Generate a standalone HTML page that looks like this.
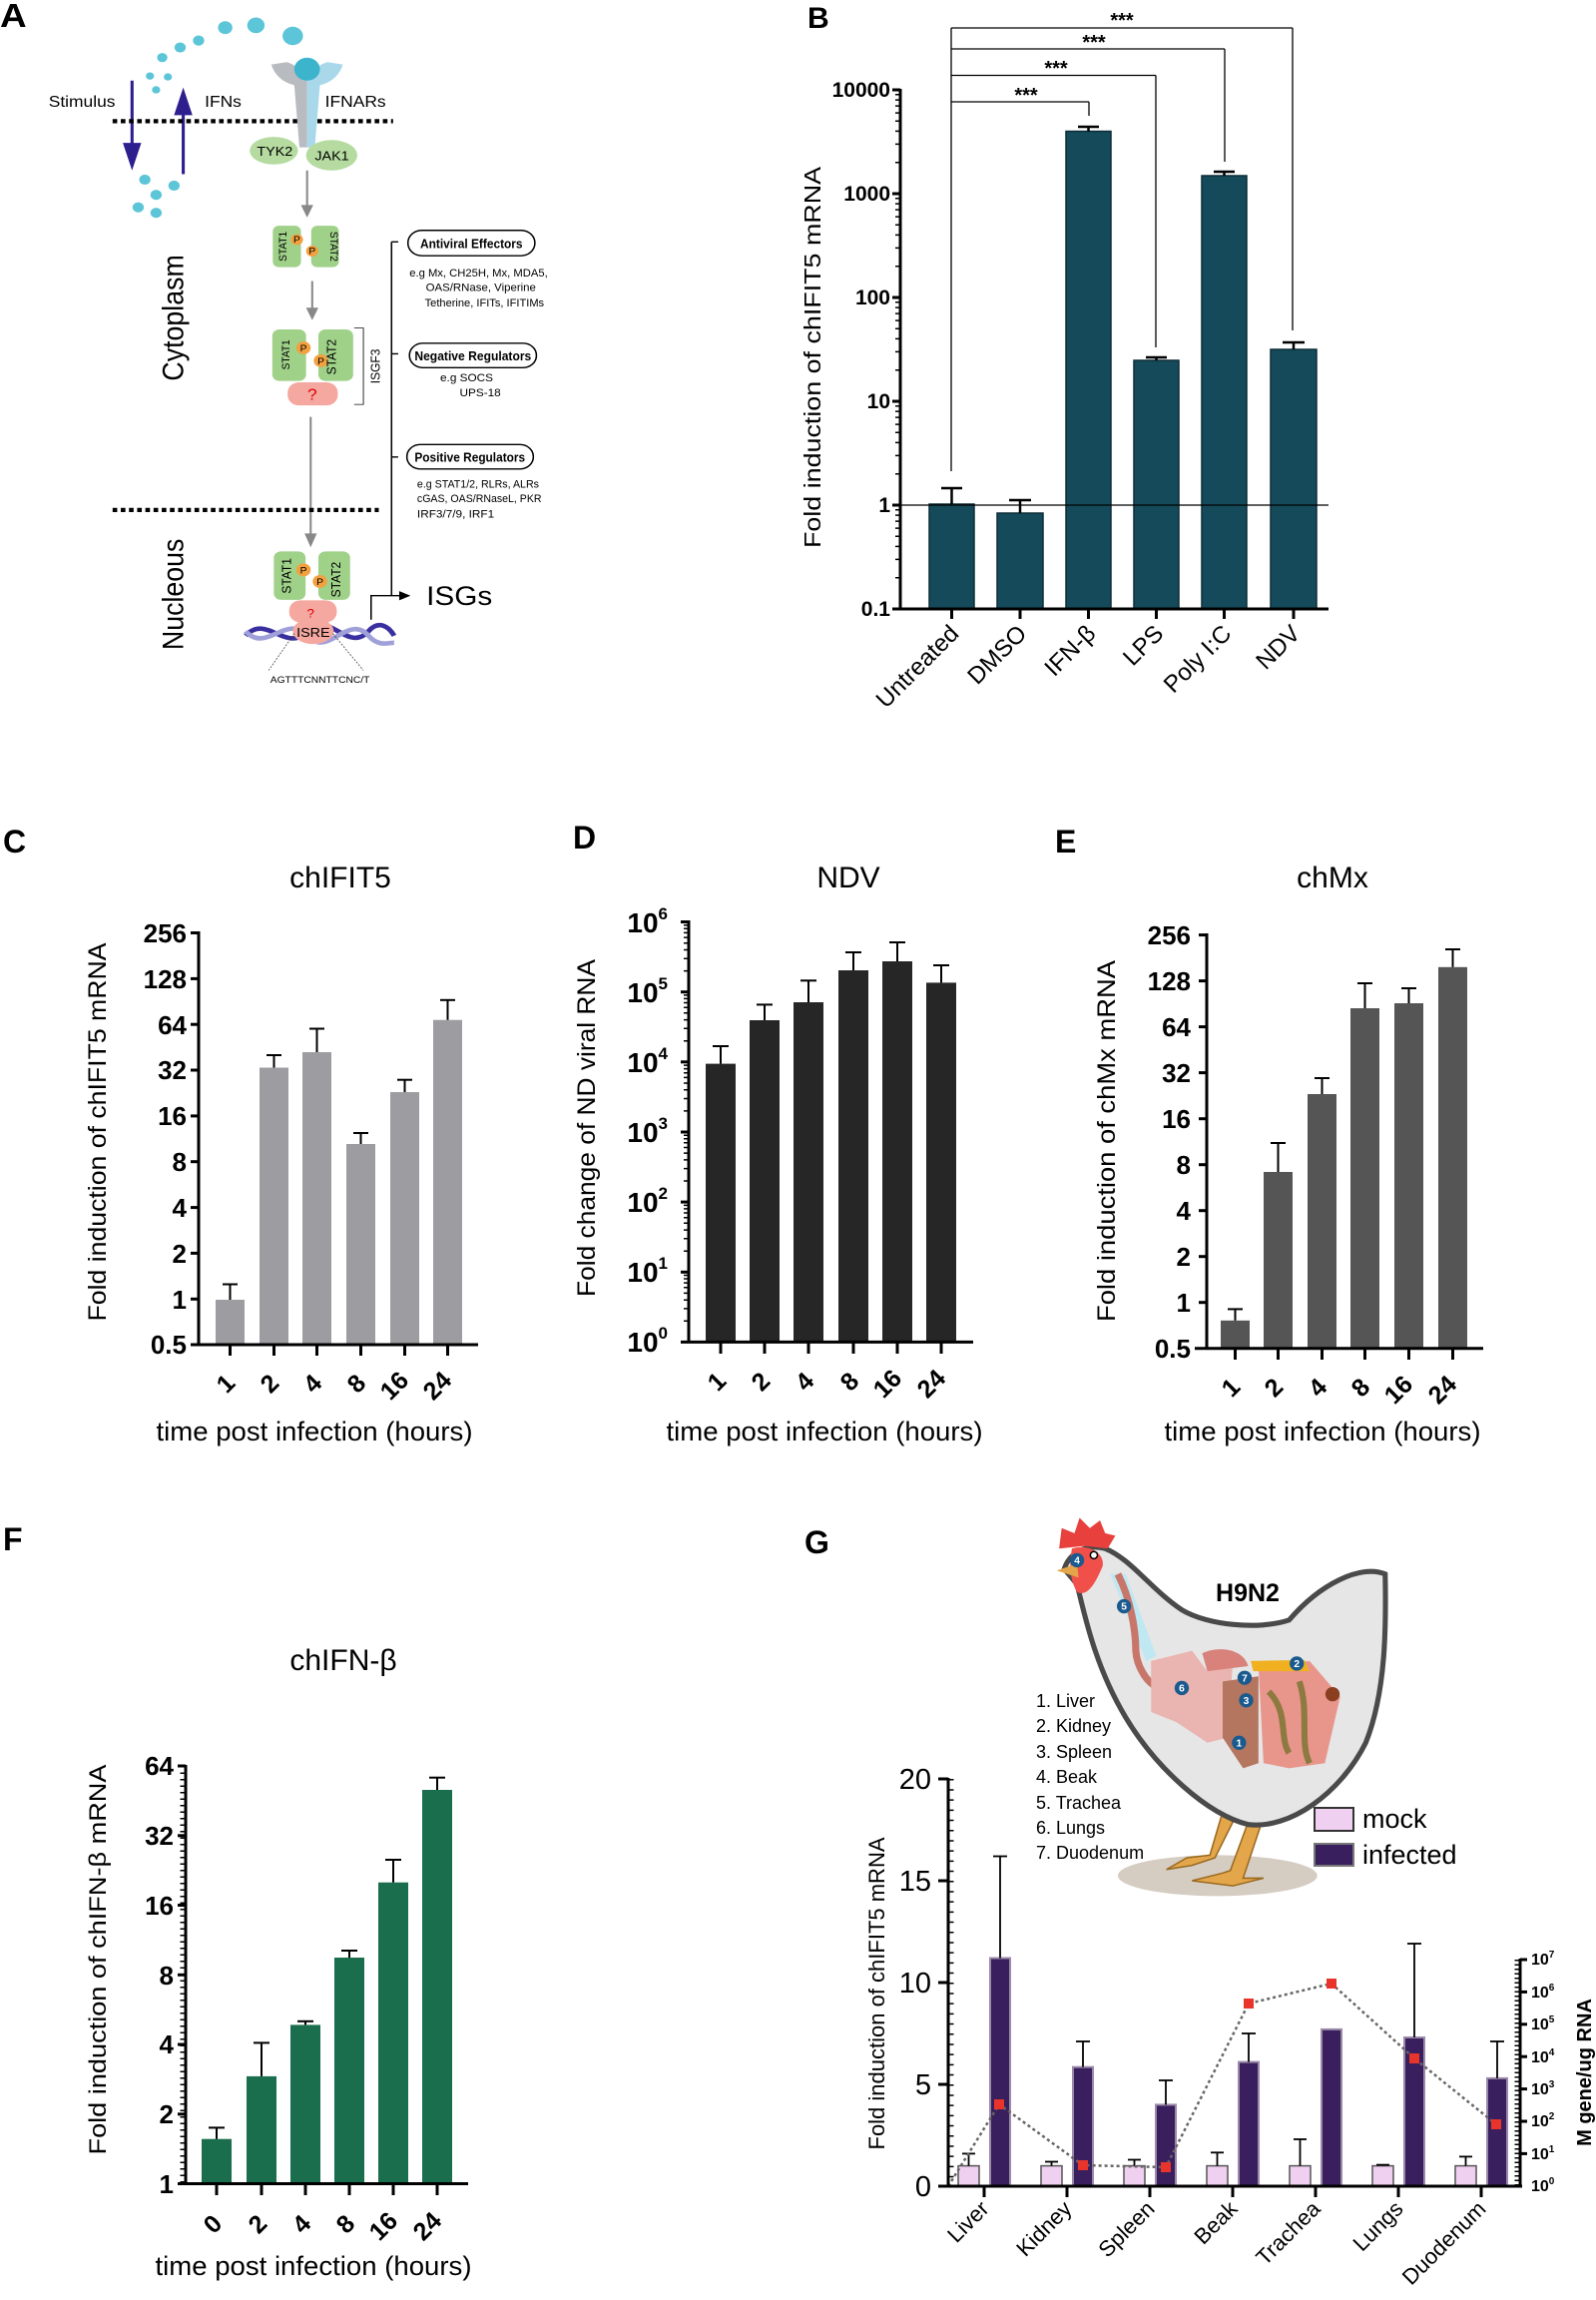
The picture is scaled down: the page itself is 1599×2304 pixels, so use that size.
<!DOCTYPE html>
<html><head><meta charset="utf-8"><style>
html,body{margin:0;padding:0;background:#fff}
svg{display:block}
text{font-family:"Liberation Sans",Arial,sans-serif}
</style></head><body>
<svg width="1599" height="2304" viewBox="0 0 1599 2304" xmlns="http://www.w3.org/2000/svg">
<rect width="1599" height="2304" fill="#fff"/>

<!-- ================= PANEL A ================= -->
<g transform="scale(0.5128,0.4615)">
<text x="0" y="58" font-size="72" font-weight="bold">A</text>
<g fill="#5cc5d8">
<circle cx="440" cy="60" r="14"/><circle cx="500" cy="55" r="17"/><circle cx="572" cy="78" r="20"/>
<circle cx="388" cy="88" r="11"/><circle cx="352" cy="103" r="11"/><circle cx="317" cy="125" r="10"/>
<circle cx="293" cy="165" r="8"/><circle cx="328" cy="167" r="8"/><circle cx="305" cy="195" r="8"/>
<circle cx="283" cy="390" r="11"/><circle cx="340" cy="403" r="11"/><circle cx="305" cy="423" r="11"/>
<circle cx="270" cy="450" r="11"/><circle cx="305" cy="462" r="11"/>
</g>
<text x="95" y="232" font-size="34">Stimulus</text>
<text x="400" y="232" font-size="34">IFNs</text>
<text x="635" y="232" font-size="34">IFNARs</text>
<g stroke="#2e1f8f" stroke-width="6" fill="#2e1f8f">
<line x1="258" y1="175" x2="258" y2="320"/><polygon points="240,310 276,310 258,370" stroke="none"/>
<line x1="358" y1="378" x2="358" y2="240"/><polygon points="340,250 376,250 358,190" stroke="none"/>
</g>
<line x1="220" y1="263" x2="768" y2="263" stroke="#000" stroke-width="9" stroke-dasharray="9,7"/>
<path d="M530,140 Q540,175 575,185 L585,320 L600,320 L600,170 Q580,140 560,135 Z" fill="#b8bcc0"/>
<path d="M670,140 Q660,175 625,185 L615,320 L600,320 L600,170 Q620,140 640,135 Z" fill="#a8d8ea"/>
<circle cx="600" cy="150" r="25" fill="#3cb4cc"/>
<ellipse cx="535" cy="327" rx="47" ry="30" fill="#b5dba0"/>
<ellipse cx="648" cy="337" rx="50" ry="33" fill="#b5dba0"/>
<text x="502" y="338" font-size="28">TYK2</text>
<text x="615" y="348" font-size="28">JAK1</text>
<g stroke="#888" stroke-width="4" fill="#888">
<line x1="600" y1="370" x2="600" y2="450"/><polygon points="588,445 612,445 600,472" stroke="none"/>
<line x1="610" y1="610" x2="610" y2="672"/><polygon points="598,668 622,668 610,695" stroke="none"/>
<line x1="607" y1="905" x2="607" y2="1160"/><polygon points="595,1158 619,1158 607,1188" stroke="none"/>
</g>
<g fill="#9fd189">
<rect x="533" y="490" width="55" height="90" rx="12"/><rect x="608" y="490" width="54" height="90" rx="12"/>
<rect x="532" y="715" width="66" height="112" rx="14"/><rect x="622" y="715" width="68" height="112" rx="14"/>
<rect x="535" y="1197" width="62" height="105" rx="14"/><rect x="622" y="1197" width="62" height="105" rx="14"/>
</g>
<g fill="#f5a8a0">
<rect x="562" y="830" width="98" height="50" rx="22"/>
<rect x="565" y="1303" width="93" height="48" rx="22"/>
</g>
<path d="M480,1380 C520,1330 560,1420 600,1370 C640,1320 680,1420 720,1370 C740,1345 760,1360 770,1380" stroke="#3a2fa0" stroke-width="10" fill="none"/>
<path d="M480,1370 C520,1420 560,1330 600,1380 C640,1430 680,1330 720,1380 C740,1405 760,1395 770,1395" stroke="#9fa0d8" stroke-width="10" fill="none"/>
<ellipse cx="612" cy="1370" rx="40" ry="28" fill="#f5a8a0"/>
<text x="612" y="1382" font-size="28" text-anchor="middle">ISRE</text>
<text x="610" y="868" font-size="34" fill="#d00" text-anchor="middle">?</text>
<text x="607" y="1340" font-size="26" fill="#d00" text-anchor="middle">?</text>
<g fill="#f2a040">
<circle cx="580" cy="520" r="12"/><circle cx="610" cy="545" r="12"/>
<circle cx="593" cy="755" r="14"/><circle cx="627" cy="783" r="14"/>
<circle cx="593" cy="1237" r="14"/><circle cx="625" cy="1262" r="14"/>
</g>
<g font-size="20" text-anchor="middle">
<text x="580" y="527">P</text><text x="610" y="552">P</text>
<text x="593" y="763">P</text><text x="627" y="791">P</text>
<text x="593" y="1245">P</text><text x="625" y="1270">P</text>
</g>
<g font-size="22" text-anchor="middle">
<text transform="translate(560,535) rotate(-90)">STAT1</text>
<text transform="translate(645,535) rotate(90)">STAT2</text>
<text transform="translate(566,770) rotate(-90)">STAT1</text>
<text transform="translate(656,775) rotate(-90)" font-size="26">STAT2</text>
<text transform="translate(568,1250) rotate(-90)" font-size="26">STAT1</text>
<text transform="translate(665,1258) rotate(-90)" font-size="26">STAT2</text>
</g>
<path d="M692,712 L710,712 L710,878 L692,878" stroke="#333" stroke-width="2" fill="none"/>
<text transform="translate(742,795) rotate(-90)" font-size="26" text-anchor="middle">ISGF3</text>
<line x1="220" y1="1107" x2="740" y2="1107" stroke="#000" stroke-width="9" stroke-dasharray="9,7"/>
<line x1="575" y1="1375" x2="525" y2="1455" stroke="#333" stroke-width="1.5" stroke-dasharray="4,3"/>
<line x1="650" y1="1375" x2="710" y2="1455" stroke="#333" stroke-width="1.5" stroke-dasharray="4,3"/>
<text x="528" y="1482" font-size="20">AGTTTCNNTTCNC/T</text>
<g stroke="#000" stroke-width="3" fill="none">
<line x1="765" y1="525" x2="765" y2="1292"/>
<line x1="765" y1="525" x2="778" y2="525"/><line x1="765" y1="768" x2="778" y2="768"/><line x1="765" y1="992" x2="778" y2="992"/>
<path d="M725,1345 L725,1293 L785,1293"/>
</g>
<polygon points="780,1283 802,1293 780,1303" fill="#000"/>
<text x="833" y="1313" font-size="58">ISGs</text>
<g stroke="#000" stroke-width="3" fill="#fff">
<rect x="797" y="500" width="248" height="55" rx="27"/>
<rect x="800" y="745" width="248" height="53" rx="26"/>
<rect x="795" y="965" width="247" height="53" rx="26"/>
</g>
<g font-size="28" font-weight="bold" text-anchor="middle">
<text x="921" y="538" textLength="200" lengthAdjust="spacingAndGlyphs">Antiviral Effectors</text>
<text x="924" y="782" textLength="228" lengthAdjust="spacingAndGlyphs">Negative Regulators</text>
<text x="918" y="1002" textLength="216" lengthAdjust="spacingAndGlyphs">Positive Regulators</text>
</g>
<g font-size="23">
<text x="800" y="600" textLength="270" lengthAdjust="spacingAndGlyphs">e.g Mx, CH25H, Mx, MDA5,</text>
<text x="832" y="632" textLength="215" lengthAdjust="spacingAndGlyphs">OAS/RNase,  Viperine</text>
<text x="830" y="665" textLength="233" lengthAdjust="spacingAndGlyphs">Tetherine, IFITs, IFITIMs</text>
<text x="860" y="828">e.g SOCS</text>
<text x="898" y="860">UPS-18</text>
<text x="815" y="1058" textLength="238" lengthAdjust="spacingAndGlyphs">e.g STAT1/2, RLRs, ALRs</text>
<text x="815" y="1090" textLength="243" lengthAdjust="spacingAndGlyphs">cGAS, OAS/RNaseL, PKR</text>
<text x="815" y="1123">IRF3/7/9, IRF1</text>
</g>
<text transform="translate(358,690) rotate(-90)" font-size="58" text-anchor="middle">Cytoplasm</text>
<text transform="translate(358,1290) rotate(-90)" font-size="58" text-anchor="middle">Nucleous</text>
</g>

<!-- ================= PANEL B ================= -->
<text x="809" y="28" font-size="30" font-weight="bold">B</text>
<g stroke="#000" stroke-width="1.3" fill="none">
<line x1="953" y1="28" x2="1295" y2="28"/><line x1="1295" y1="28" x2="1295" y2="331"/>
<line x1="953" y1="49" x2="1227" y2="49"/><line x1="1227" y1="49" x2="1227" y2="162"/>
<line x1="953" y1="75.5" x2="1158" y2="75.5"/><line x1="1158" y1="75.5" x2="1158" y2="348"/>
<line x1="953" y1="102" x2="1091" y2="102"/><line x1="1091" y1="102" x2="1091" y2="116"/>
<line x1="953" y1="28" x2="953" y2="472"/>
</g>
<g font-size="20" font-weight="bold" text-anchor="middle">
<text x="1124" y="27">***</text><text x="1096" y="49">***</text><text x="1058" y="75">***</text><text x="1028" y="102">***</text>
</g>
<g fill="#154a5a" stroke="#0c2d37" stroke-width="1.5">
<rect x="931" y="505" width="45" height="105"/>
<rect x="999" y="514" width="46" height="96"/>
<rect x="1068" y="131.5" width="45" height="478.5"/>
<rect x="1136" y="361" width="45" height="249"/>
<rect x="1204" y="176" width="45" height="434"/>
<rect x="1273" y="350" width="46" height="260"/>
</g>
<g stroke="#000" stroke-width="2.5">
<line x1="953.5" y1="505" x2="953.5" y2="489"/><line x1="943" y1="489" x2="964" y2="489"/>
<line x1="1022" y1="514" x2="1022" y2="501"/><line x1="1011" y1="501" x2="1033" y2="501"/>
<line x1="1090.5" y1="131.5" x2="1090.5" y2="127"/><line x1="1080" y1="127" x2="1101" y2="127"/>
<line x1="1158.5" y1="361" x2="1158.5" y2="358"/><line x1="1148" y1="358" x2="1169" y2="358"/>
<line x1="1226.5" y1="176" x2="1226.5" y2="172"/><line x1="1216" y1="172" x2="1237" y2="172"/>
<line x1="1296" y1="350" x2="1296" y2="343"/><line x1="1285" y1="343" x2="1307" y2="343"/>
</g>
<line x1="902" y1="506" x2="1331" y2="506" stroke="#000" stroke-width="1.3"/>
<g stroke="#000" stroke-width="3">
<line x1="902" y1="89" x2="902" y2="611"/><line x1="901" y1="610" x2="1331" y2="610"/>
<line x1="894" y1="90" x2="902" y2="90"/><line x1="894" y1="194" x2="902" y2="194"/><line x1="894" y1="298" x2="902" y2="298"/>
<line x1="894" y1="402" x2="902" y2="402"/><line x1="894" y1="506" x2="902" y2="506"/><line x1="894" y1="610" x2="902" y2="610"/>
<line x1="953.5" y1="610" x2="953.5" y2="620"/><line x1="1022" y1="610" x2="1022" y2="620"/><line x1="1090.5" y1="610" x2="1090.5" y2="620"/>
<line x1="1158.5" y1="610" x2="1158.5" y2="620"/><line x1="1226.5" y1="610" x2="1226.5" y2="620"/><line x1="1296" y1="610" x2="1296" y2="620"/>
</g>
<path stroke="#000" stroke-width="1.5" d="
M897,578.7h5M897,560.4h5M897,547.4h5M897,537.3h5M897,529.1h5M897,522.1h5M897,516.1h5M897,510.8h5
M897,474.7h5M897,456.4h5M897,443.4h5M897,433.3h5M897,425.1h5M897,418.1h5M897,412.1h5M897,406.8h5
M897,370.7h5M897,352.4h5M897,339.4h5M897,329.3h5M897,321.1h5M897,314.1h5M897,308.1h5M897,302.8h5
M897,266.7h5M897,248.4h5M897,235.4h5M897,225.3h5M897,217.1h5M897,210.1h5M897,204.1h5M897,198.8h5
M897,162.7h5M897,144.4h5M897,131.4h5M897,121.3h5M897,113.1h5M897,106.1h5M897,100.1h5M897,94.8h5"/>
<g font-size="21" font-weight="bold" text-anchor="end">
<text x="892" y="97">10000</text><text x="892" y="201">1000</text><text x="892" y="305">100</text>
<text x="892" y="409">10</text><text x="892" y="513">1</text><text x="892" y="617">0.1</text>
</g>
<text transform="translate(822,358) rotate(-90)" font-size="23" text-anchor="middle" textLength="382" lengthAdjust="spacingAndGlyphs">Fold induction of chIFIT5 mRNA</text>
<g font-size="24" text-anchor="end">
<text transform="translate(962,636) rotate(-45)">Untreated</text>
<text transform="translate(1030,636) rotate(-45)">DMSO</text>
<text transform="translate(1099,636) rotate(-45)">IFN-β</text>
<text transform="translate(1167,636) rotate(-45)">LPS</text>
<text transform="translate(1235,636) rotate(-45)">Poly I:C</text>
<text transform="translate(1304,636) rotate(-45)">NDV</text>
</g>

<!-- ================= PANEL C ================= -->
<text x="3" y="854" font-size="32" font-weight="bold">C</text>
<text x="341" y="889" font-size="30" text-anchor="middle">chIFIT5</text>
<g fill="#9d9da1">
<rect x="216" y="1302" width="29" height="45"/><rect x="260" y="1069.5" width="29" height="277.5"/>
<rect x="303" y="1054" width="29" height="293"/><rect x="347" y="1146" width="29" height="201"/>
<rect x="391" y="1094" width="29" height="253"/><rect x="434" y="1021.7" width="29" height="325.3"/>
</g>
<g stroke="#000" stroke-width="2">
<line x1="230.5" y1="1302" x2="230.5" y2="1286.5"/><line x1="223" y1="1286.5" x2="238" y2="1286.5"/>
<line x1="274.5" y1="1069.5" x2="274.5" y2="1057"/><line x1="267" y1="1057" x2="282" y2="1057"/>
<line x1="317.5" y1="1054" x2="317.5" y2="1030.5"/><line x1="310" y1="1030.5" x2="325" y2="1030.5"/>
<line x1="361.5" y1="1146" x2="361.5" y2="1135"/><line x1="354" y1="1135" x2="369" y2="1135"/>
<line x1="405.5" y1="1094" x2="405.5" y2="1081.7"/><line x1="398" y1="1081.7" x2="413" y2="1081.7"/>
<line x1="448.5" y1="1021.7" x2="448.5" y2="1001.8"/><line x1="441" y1="1001.8" x2="456" y2="1001.8"/>
</g>
<g stroke="#000" stroke-width="3">
<line x1="199" y1="933" x2="199" y2="1348"/><line x1="191" y1="1347" x2="479" y2="1347"/>
<line x1="191" y1="934.5" x2="199" y2="934.5"/><line x1="191" y1="980.4" x2="199" y2="980.4"/><line x1="191" y1="1026.2" x2="199" y2="1026.2"/>
<line x1="191" y1="1072" x2="199" y2="1072"/><line x1="191" y1="1117.9" x2="199" y2="1117.9"/><line x1="191" y1="1163.7" x2="199" y2="1163.7"/>
<line x1="191" y1="1209.6" x2="199" y2="1209.6"/><line x1="191" y1="1255.4" x2="199" y2="1255.4"/><line x1="191" y1="1301.3" x2="199" y2="1301.3"/>
<line x1="230.5" y1="1347" x2="230.5" y2="1358"/><line x1="274.5" y1="1347" x2="274.5" y2="1358"/><line x1="317.5" y1="1347" x2="317.5" y2="1358"/>
<line x1="361.5" y1="1347" x2="361.5" y2="1358"/><line x1="405.5" y1="1347" x2="405.5" y2="1358"/><line x1="448.5" y1="1347" x2="448.5" y2="1358"/>
</g>
<g font-size="26" font-weight="bold" text-anchor="end">
<text x="187" y="944">256</text><text x="187" y="990">128</text><text x="187" y="1036">64</text><text x="187" y="1081">32</text>
<text x="187" y="1127">16</text><text x="187" y="1173">8</text><text x="187" y="1219">4</text><text x="187" y="1265">2</text>
<text x="187" y="1311">1</text><text x="187" y="1356">0.5</text>
</g>
<text transform="translate(106,1134) rotate(-90)" font-size="25" text-anchor="middle" textLength="379" lengthAdjust="spacingAndGlyphs">Fold induction of chIFIT5 mRNA</text>
<g font-size="25" font-weight="bold" text-anchor="middle">
<text transform="translate(232,1392) rotate(-45)">1</text><text transform="translate(276,1392) rotate(-45)">2</text>
<text transform="translate(319,1392) rotate(-45)">4</text><text transform="translate(363,1392) rotate(-45)">8</text>
<text transform="translate(401,1394) rotate(-45)">16</text><text transform="translate(444,1394) rotate(-45)">24</text>
</g>
<text x="315" y="1443" font-size="27" text-anchor="middle" textLength="317" lengthAdjust="spacingAndGlyphs">time post infection (hours)</text>

<!-- ================= PANEL D ================= -->
<text x="574" y="850" font-size="32" font-weight="bold">D</text>
<text x="850" y="889" font-size="30" text-anchor="middle">NDV</text>
<g fill="#262626">
<rect x="707" y="1065.6" width="30" height="278.8"/><rect x="751" y="1022" width="30" height="322.4"/>
<rect x="795" y="1004" width="30" height="340.4"/><rect x="840" y="972" width="30" height="372.4"/>
<rect x="884" y="963" width="30" height="381.4"/><rect x="928" y="984.4" width="30" height="360"/>
</g>
<g stroke="#000" stroke-width="2">
<line x1="722" y1="1065.6" x2="722" y2="1048"/><line x1="714" y1="1048" x2="730" y2="1048"/>
<line x1="766" y1="1022" x2="766" y2="1006.4"/><line x1="758" y1="1006.4" x2="774" y2="1006.4"/>
<line x1="810" y1="1004" x2="810" y2="982.3"/><line x1="802" y1="982.3" x2="818" y2="982.3"/>
<line x1="855" y1="972" x2="855" y2="954"/><line x1="847" y1="954" x2="863" y2="954"/>
<line x1="899" y1="963" x2="899" y2="944"/><line x1="891" y1="944" x2="907" y2="944"/>
<line x1="943" y1="984.4" x2="943" y2="967"/><line x1="935" y1="967" x2="951" y2="967"/>
</g>
<g stroke="#000" stroke-width="3">
<line x1="690" y1="922" x2="690" y2="1345.4"/><line x1="682" y1="1344.4" x2="975" y2="1344.4"/>
<line x1="682" y1="923.5" x2="690" y2="923.5"/><line x1="682" y1="993.7" x2="690" y2="993.7"/><line x1="682" y1="1063.8" x2="690" y2="1063.8"/>
<line x1="682" y1="1134" x2="690" y2="1134"/><line x1="682" y1="1204.1" x2="690" y2="1204.1"/><line x1="682" y1="1274.3" x2="690" y2="1274.3"/>
<line x1="722" y1="1344.4" x2="722" y2="1356"/><line x1="766" y1="1344.4" x2="766" y2="1356"/><line x1="810" y1="1344.4" x2="810" y2="1356"/>
<line x1="855" y1="1344.4" x2="855" y2="1356"/><line x1="899" y1="1344.4" x2="899" y2="1356"/><line x1="943" y1="1344.4" x2="943" y2="1356"/>
</g>
<path stroke="#000" stroke-width="1.5" d="
M685,1323.3h5M685,1310.9h5M685,1302.2h5M685,1295.4h5M685,1289.8h5M685,1285.1h5M685,1281h5M685,1277.5h5
M685,1253.2h5M685,1240.8h5M685,1232.1h5M685,1225.3h5M685,1219.7h5M685,1215h5M685,1210.9h5M685,1207.4h5
M685,1183h5M685,1170.6h5M685,1161.9h5M685,1155.1h5M685,1149.5h5M685,1144.8h5M685,1140.7h5M685,1137.2h5
M685,1112.9h5M685,1100.5h5M685,1091.8h5M685,1085h5M685,1079.4h5M685,1074.7h5M685,1070.6h5M685,1067.1h5
M685,1042.7h5M685,1030.3h5M685,1021.6h5M685,1014.8h5M685,1009.2h5M685,1004.5h5M685,1000.4h5M685,996.9h5
M685,972.6h5M685,960.2h5M685,951.5h5M685,944.7h5M685,939.1h5M685,934.4h5M685,930.3h5M685,926.8h5"/>
<g font-size="28" font-weight="bold" text-anchor="end">
<text x="669" y="934">10<tspan font-size="17" dy="-13">6</tspan></text>
<text x="669" y="1004">10<tspan font-size="17" dy="-13">5</tspan></text>
<text x="669" y="1074">10<tspan font-size="17" dy="-13">4</tspan></text>
<text x="669" y="1144">10<tspan font-size="17" dy="-13">3</tspan></text>
<text x="669" y="1214">10<tspan font-size="17" dy="-13">2</tspan></text>
<text x="669" y="1284">10<tspan font-size="17" dy="-13">1</tspan></text>
<text x="669" y="1354">10<tspan font-size="17" dy="-13">0</tspan></text>
</g>
<text transform="translate(596,1130) rotate(-90)" font-size="25" text-anchor="middle" textLength="338" lengthAdjust="spacingAndGlyphs">Fold change of ND viral RNA</text>
<g font-size="25" font-weight="bold" text-anchor="middle">
<text transform="translate(724,1390) rotate(-45)">1</text><text transform="translate(768,1390) rotate(-45)">2</text>
<text transform="translate(812,1390) rotate(-45)">4</text><text transform="translate(857,1390) rotate(-45)">8</text>
<text transform="translate(895,1392) rotate(-45)">16</text><text transform="translate(939,1392) rotate(-45)">24</text>
</g>
<text x="826" y="1443" font-size="27" text-anchor="middle" textLength="317" lengthAdjust="spacingAndGlyphs">time post infection (hours)</text>

<!-- ================= PANEL E ================= -->
<text x="1057" y="854" font-size="32" font-weight="bold">E</text>
<text x="1335" y="889" font-size="30" text-anchor="middle">chMx</text>
<g fill="#555555">
<rect x="1223" y="1322.8" width="29" height="27.9"/><rect x="1266" y="1174" width="29" height="176.7"/>
<rect x="1310" y="1096" width="29" height="254.7"/><rect x="1353" y="1010" width="29" height="340.7"/>
<rect x="1397" y="1005" width="29" height="345.7"/><rect x="1441" y="968.8" width="29" height="381.9"/>
</g>
<g stroke="#000" stroke-width="2">
<line x1="1237.5" y1="1322.8" x2="1237.5" y2="1311.4"/><line x1="1230" y1="1311.4" x2="1245" y2="1311.4"/>
<line x1="1280.5" y1="1174" x2="1280.5" y2="1145"/><line x1="1273" y1="1145" x2="1288" y2="1145"/>
<line x1="1324.5" y1="1096" x2="1324.5" y2="1080"/><line x1="1317" y1="1080" x2="1332" y2="1080"/>
<line x1="1367.5" y1="1010" x2="1367.5" y2="985"/><line x1="1360" y1="985" x2="1375" y2="985"/>
<line x1="1411.5" y1="1005" x2="1411.5" y2="990"/><line x1="1404" y1="990" x2="1419" y2="990"/>
<line x1="1455.5" y1="968.8" x2="1455.5" y2="951"/><line x1="1448" y1="951" x2="1463" y2="951"/>
</g>
<g stroke="#000" stroke-width="3">
<line x1="1209" y1="935" x2="1209" y2="1351.7"/><line x1="1197" y1="1350.7" x2="1486" y2="1350.7"/>
<line x1="1201" y1="936.6" x2="1209" y2="936.6"/><line x1="1201" y1="982.6" x2="1209" y2="982.6"/><line x1="1201" y1="1028.6" x2="1209" y2="1028.6"/>
<line x1="1201" y1="1074.6" x2="1209" y2="1074.6"/><line x1="1201" y1="1120.7" x2="1209" y2="1120.7"/><line x1="1201" y1="1166.7" x2="1209" y2="1166.7"/>
<line x1="1201" y1="1212.7" x2="1209" y2="1212.7"/><line x1="1201" y1="1258.7" x2="1209" y2="1258.7"/><line x1="1201" y1="1304.7" x2="1209" y2="1304.7"/>
<line x1="1237.5" y1="1350.7" x2="1237.5" y2="1362"/><line x1="1280.5" y1="1350.7" x2="1280.5" y2="1362"/><line x1="1324.5" y1="1350.7" x2="1324.5" y2="1362"/>
<line x1="1367.5" y1="1350.7" x2="1367.5" y2="1362"/><line x1="1411.5" y1="1350.7" x2="1411.5" y2="1362"/><line x1="1455.5" y1="1350.7" x2="1455.5" y2="1362"/>
</g>
<g font-size="26" font-weight="bold" text-anchor="end">
<text x="1193" y="946">256</text><text x="1193" y="992">128</text><text x="1193" y="1038">64</text><text x="1193" y="1084">32</text>
<text x="1193" y="1130">16</text><text x="1193" y="1176">8</text><text x="1193" y="1222">4</text><text x="1193" y="1268">2</text>
<text x="1193" y="1314">1</text><text x="1193" y="1360">0.5</text>
</g>
<text transform="translate(1117,1143) rotate(-90)" font-size="25" text-anchor="middle" textLength="362" lengthAdjust="spacingAndGlyphs">Fold induction of chMx mRNA</text>
<g font-size="25" font-weight="bold" text-anchor="middle">
<text transform="translate(1239,1396) rotate(-45)">1</text><text transform="translate(1282,1396) rotate(-45)">2</text>
<text transform="translate(1326,1396) rotate(-45)">4</text><text transform="translate(1369,1396) rotate(-45)">8</text>
<text transform="translate(1407,1398) rotate(-45)">16</text><text transform="translate(1451,1398) rotate(-45)">24</text>
</g>
<text x="1325" y="1443" font-size="27" text-anchor="middle" textLength="317" lengthAdjust="spacingAndGlyphs">time post infection (hours)</text>

<!-- ================= PANEL F ================= -->
<text x="3" y="1553" font-size="32" font-weight="bold">F</text>
<text x="344" y="1673" font-size="30" text-anchor="middle">chIFN-β</text>
<g fill="#1a6e4e">
<rect x="202" y="2142.7" width="30" height="44.8"/><rect x="247" y="2079.9" width="30" height="107.6"/>
<rect x="291" y="2028.4" width="30" height="159.1"/><rect x="335" y="1961" width="30" height="226.5"/>
<rect x="379" y="1885.7" width="30" height="301.8"/><rect x="423" y="1793" width="30" height="394.5"/>
</g>
<g stroke="#000" stroke-width="2">
<line x1="217" y1="2142.7" x2="217" y2="2131.4"/><line x1="209" y1="2131.4" x2="225" y2="2131.4"/>
<line x1="262" y1="2079.9" x2="262" y2="2046.4"/><line x1="254" y1="2046.4" x2="270" y2="2046.4"/>
<line x1="306" y1="2028.4" x2="306" y2="2024.8"/><line x1="298" y1="2024.8" x2="314" y2="2024.8"/>
<line x1="350" y1="1961" x2="350" y2="1954"/><line x1="342" y1="1954" x2="358" y2="1954"/>
<line x1="394" y1="1885.7" x2="394" y2="1863"/><line x1="386" y1="1863" x2="402" y2="1863"/>
<line x1="438" y1="1793" x2="438" y2="1780.7"/><line x1="430" y1="1780.7" x2="446" y2="1780.7"/>
</g>
<g stroke="#000" stroke-width="3">
<line x1="186" y1="1768" x2="186" y2="2188.5"/><line x1="178" y1="2187.5" x2="469" y2="2187.5"/>
<line x1="178" y1="1769" x2="186" y2="1769"/><line x1="178" y1="1838.8" x2="186" y2="1838.8"/><line x1="178" y1="1908.5" x2="186" y2="1908.5"/>
<line x1="178" y1="1978.3" x2="186" y2="1978.3"/><line x1="178" y1="2048" x2="186" y2="2048"/><line x1="178" y1="2117.8" x2="186" y2="2117.8"/>
<line x1="217" y1="2187.5" x2="217" y2="2199"/><line x1="262" y1="2187.5" x2="262" y2="2199"/><line x1="306" y1="2187.5" x2="306" y2="2199"/>
<line x1="350" y1="2187.5" x2="350" y2="2199"/><line x1="394" y1="2187.5" x2="394" y2="2199"/><line x1="438" y1="2187.5" x2="438" y2="2199"/>
</g>
<line x1="183" y1="1769" x2="183" y2="2187" stroke="#000" stroke-width="5" stroke-dasharray="1.5,5"/>
<g font-size="26" font-weight="bold" text-anchor="end">
<text x="174" y="1778">64</text><text x="174" y="1848">32</text><text x="174" y="1918">16</text>
<text x="174" y="1988">8</text><text x="174" y="2057">4</text><text x="174" y="2127">2</text><text x="174" y="2197">1</text>
</g>
<text transform="translate(106,1963) rotate(-90)" font-size="24" text-anchor="middle" textLength="391" lengthAdjust="spacingAndGlyphs">Fold induction of chIFN-β mRNA</text>
<g font-size="25" font-weight="bold" text-anchor="middle">
<text transform="translate(219,2234) rotate(-45)">0</text><text transform="translate(264,2234) rotate(-45)">2</text>
<text transform="translate(308,2234) rotate(-45)">4</text><text transform="translate(352,2234) rotate(-45)">8</text>
<text transform="translate(390,2236) rotate(-45)">16</text><text transform="translate(434,2236) rotate(-45)">24</text>
</g>
<text x="314" y="2279" font-size="27" text-anchor="middle" textLength="317" lengthAdjust="spacingAndGlyphs">time post infection (hours)</text>

<!-- ================= PANEL G ================= -->
<text x="806" y="1556" font-size="32" font-weight="bold">G</text>
<g transform="translate(800,1500) scale(0.512)">
<ellipse cx="820" cy="740" rx="195" ry="40" fill="#d5ccc2"/>
<g fill="#e3a64a" stroke="#9a6a20" stroke-width="3">
<polygon points="830,615 855,625 815,705 770,720 720,728 760,705 805,700"/>
<polygon points="880,635 905,640 870,745 910,745 850,760 770,750 830,735 845,730"/>
</g>
<path d="M545,170 C560,230 580,330 640,430 C700,530 800,620 880,640 C960,650 1060,580 1110,480 C1150,380 1150,250 1148,150 C1100,130 1020,170 960,240 C900,260 800,250 750,220 C690,180 650,120 600,100 C560,90 530,110 520,140 Z" fill="#e6e6e6" stroke="#4a4a4a" stroke-width="10"/>
<path d="M510,100 L515,60 L540,70 L550,40 L570,60 L590,45 L600,70 L620,75 L605,100 L560,95 Z" fill="#e8403c"/>
<path d="M535,100 C570,90 600,110 595,135 C580,170 565,195 545,185 C530,160 530,130 535,100Z" fill="#f04f4a"/>
<polygon points="505,143 545,130 548,157" fill="#e3a64a"/>
<path d="M610,150 L640,150 L700,310 L680,320 Z" fill="#bfe8f2"/>
<path d="M625,150 C650,200 660,260 660,300 C662,330 680,360 700,370" stroke="#c8766a" stroke-width="14" fill="none"/>
<path d="M690,320 L770,300 L800,340 L850,320 L840,470 L800,480 L740,440 L690,420 Z" fill="#eab4b0"/>
<path d="M790,305 C820,290 870,295 880,330 L800,340 Z" fill="#d9827c"/>
<path d="M830,360 L900,350 L900,520 L870,530 L830,470 Z" fill="#b57660"/>
<path d="M900,330 L1000,320 L1060,390 L1030,520 L960,530 L910,520 Z" fill="#e8968c"/>
<path d="M920,380 C960,420 940,470 960,500 M980,360 C1000,420 980,480 1000,520" stroke="#8d7a40" stroke-width="12" fill="none"/>
<path d="M885,320 L990,318 L1000,340 L890,340Z" fill="#f0b020"/>
<circle cx="1045" cy="385" r="14" fill="#8a4020"/>
<g fill="#1b5a8e"><circle cx="545" cy="123" r="14"/><circle cx="637" cy="213" r="14"/><circle cx="750" cy="373" r="14"/>
<circle cx="873" cy="353" r="14"/><circle cx="876" cy="397" r="14"/><circle cx="975" cy="325" r="14"/><circle cx="862" cy="480" r="14"/></g>
<g fill="#fff" font-size="20" font-weight="bold" text-anchor="middle">
<text x="545" y="130">4</text><text x="637" y="220">5</text><text x="750" y="380">6</text><text x="873" y="360">7</text>
<text x="876" y="404">3</text><text x="975" y="332">2</text><text x="862" y="487">1</text></g>
<circle cx="578" cy="113" r="7" fill="#fff" stroke="#000" stroke-width="3"/>
</g>
<text x="1250" y="1604" font-size="25" font-weight="bold" text-anchor="middle">H9N2</text>
<g font-size="18">
<text x="1038" y="1710">1. Liver</text><text x="1038" y="1735">2. Kidney</text><text x="1038" y="1761">3. Spleen</text>
<text x="1038" y="1786">4. Beak</text><text x="1038" y="1812">5. Trachea</text><text x="1038" y="1837">6. Lungs</text>
<text x="1038" y="1862">7. Duodenum</text>
</g>
<rect x="1317" y="1811" width="39" height="23" fill="#f0d0f0" stroke="#333" stroke-width="2"/>
<rect x="1317" y="1847" width="39" height="22" fill="#3a1f5e" stroke="#777" stroke-width="2"/>
<text x="1365" y="1831" font-size="27">mock</text>
<text x="1365" y="1867" font-size="27">infected</text>
<g fill="#f0d0f0" stroke="#555" stroke-width="1.5">
<rect x="960" y="2169.6" width="21" height="20.4"/><rect x="1043" y="2169.6" width="21" height="20.4"/>
<rect x="1126" y="2169.6" width="21" height="20.4"/><rect x="1209" y="2169.6" width="21" height="20.4"/>
<rect x="1292" y="2169.6" width="21" height="20.4"/><rect x="1375" y="2169.6" width="21" height="20.4"/>
<rect x="1458" y="2169.6" width="21" height="20.4"/>
</g>
<g fill="#3a1f5e" stroke="#9a8aa8" stroke-width="2">
<rect x="992" y="1961.5" width="20" height="228.5"/><rect x="1075" y="2070.7" width="20" height="119.3"/>
<rect x="1158" y="2108.4" width="20" height="81.6"/><rect x="1241" y="2065.6" width="20" height="124.4"/>
<rect x="1324" y="2032.9" width="20" height="157.1"/><rect x="1407" y="2041" width="20" height="149"/>
<rect x="1490" y="2081.9" width="20" height="108.1"/>
</g>
<g stroke="#000" stroke-width="1.8">
<line x1="1002" y1="1961.5" x2="1002" y2="1859.5"/><line x1="995" y1="1859.5" x2="1009" y2="1859.5"/>
<line x1="1085" y1="2070.7" x2="1085" y2="2045"/><line x1="1078" y1="2045" x2="1092" y2="2045"/>
<line x1="1168" y1="2108.4" x2="1168" y2="2084"/><line x1="1161" y1="2084" x2="1175" y2="2084"/>
<line x1="1251" y1="2065.6" x2="1251" y2="2037"/><line x1="1244" y1="2037" x2="1258" y2="2037"/>
<line x1="1417" y1="2041" x2="1417" y2="1947"/><line x1="1410" y1="1947" x2="1424" y2="1947"/>
<line x1="1500" y1="2081.9" x2="1500" y2="2045"/><line x1="1493" y1="2045" x2="1507" y2="2045"/>
<line x1="970.5" y1="2169.6" x2="970.5" y2="2157.4"/><line x1="964" y1="2157.4" x2="977" y2="2157.4"/>
<line x1="1053.5" y1="2169.6" x2="1053.5" y2="2165.5"/><line x1="1047" y1="2165.5" x2="1060" y2="2165.5"/>
<line x1="1136.5" y1="2169.6" x2="1136.5" y2="2163.5"/><line x1="1130" y1="2163.5" x2="1143" y2="2163.5"/>
<line x1="1219.5" y1="2169.6" x2="1219.5" y2="2156.3"/><line x1="1213" y1="2156.3" x2="1226" y2="2156.3"/>
<line x1="1302.5" y1="2169.6" x2="1302.5" y2="2143"/><line x1="1296" y1="2143" x2="1309" y2="2143"/>
<line x1="1385.5" y1="2169.6" x2="1385.5" y2="2168.6"/><line x1="1379" y1="2168.6" x2="1392" y2="2168.6"/>
<line x1="1468.5" y1="2169.6" x2="1468.5" y2="2160.4"/><line x1="1462" y1="2160.4" x2="1475" y2="2160.4"/>
</g>
<polyline points="950,2190 1001,2108 1085,2169 1168,2171 1251,2007 1334,1987 1417,2062 1499,2128" fill="none" stroke="#666" stroke-width="2.5" stroke-dasharray="3,3"/>
<g fill="#e8342a">
<rect x="996" y="2103" width="10" height="10"/><rect x="1080" y="2164" width="10" height="10"/>
<rect x="1163" y="2166" width="10" height="10"/><rect x="1246" y="2002" width="10" height="10"/>
<rect x="1329" y="1982" width="10" height="10"/><rect x="1412" y="2057" width="10" height="10"/>
<rect x="1494" y="2123" width="10" height="10"/>
</g>
<g stroke="#000" stroke-width="3">
<line x1="950" y1="1781" x2="950" y2="2191"/><line x1="949" y1="2190" x2="1525" y2="2190"/>
<line x1="1523" y1="1962" x2="1523" y2="2191"/>
<line x1="940" y1="1782" x2="950" y2="1782"/><line x1="940" y1="1884" x2="950" y2="1884"/><line x1="940" y1="1986" x2="950" y2="1986"/>
<line x1="940" y1="2088" x2="950" y2="2088"/><line x1="940" y1="2190" x2="950" y2="2190"/>
<line x1="986" y1="2190" x2="986" y2="2201"/><line x1="1069" y1="2190" x2="1069" y2="2201"/><line x1="1152" y1="2190" x2="1152" y2="2201"/>
<line x1="1235" y1="2190" x2="1235" y2="2201"/><line x1="1318" y1="2190" x2="1318" y2="2201"/><line x1="1401" y1="2190" x2="1401" y2="2201"/>
<line x1="1484" y1="2190" x2="1484" y2="2201"/>
<line x1="1523" y1="1963" x2="1530" y2="1963"/><line x1="1523" y1="1995.4" x2="1530" y2="1995.4"/><line x1="1523" y1="2027.8" x2="1530" y2="2027.8"/>
<line x1="1523" y1="2060.2" x2="1530" y2="2060.2"/><line x1="1523" y1="2092.6" x2="1530" y2="2092.6"/><line x1="1523" y1="2125" x2="1530" y2="2125"/>
<line x1="1523" y1="2157.4" x2="1530" y2="2157.4"/>
</g>
<line x1="953" y1="1782" x2="953" y2="2190" stroke="#000" stroke-width="5" stroke-dasharray="1.5,8.7"/>
<line x1="1520" y1="1963" x2="1520" y2="2190" stroke="#000" stroke-width="5" stroke-dasharray="1.5,3"/>
<g font-size="29" text-anchor="end">
<text x="933" y="1792">20</text><text x="933" y="1894">15</text><text x="933" y="1996">10</text>
<text x="933" y="2098">5</text><text x="933" y="2200">0</text>
</g>
<g font-size="16" font-weight="bold">
<text x="1534" y="1968">10<tspan font-size="10" dy="-7">7</tspan></text>
<text x="1534" y="2001">10<tspan font-size="10" dy="-7">6</tspan></text>
<text x="1534" y="2033">10<tspan font-size="10" dy="-7">5</tspan></text>
<text x="1534" y="2066">10<tspan font-size="10" dy="-7">4</tspan></text>
<text x="1534" y="2098">10<tspan font-size="10" dy="-7">3</tspan></text>
<text x="1534" y="2130">10<tspan font-size="10" dy="-7">2</tspan></text>
<text x="1534" y="2163">10<tspan font-size="10" dy="-7">1</tspan></text>
<text x="1534" y="2195">10<tspan font-size="10" dy="-7">0</tspan></text>
</g>
<text transform="translate(1594,2076) rotate(-90)" font-size="20" font-weight="bold" text-anchor="middle">M gene/ug RNA</text>
<text transform="translate(886,1997) rotate(-90)" font-size="22" text-anchor="middle">Fold induction of chIFIT5 mRNA</text>
<g font-size="22" text-anchor="end">
<text transform="translate(992,2214) rotate(-45)">Liver</text>
<text transform="translate(1075,2214) rotate(-45)">Kidney</text>
<text transform="translate(1158,2214) rotate(-45)">Spleen</text>
<text transform="translate(1241,2214) rotate(-45)">Beak</text>
<text transform="translate(1324,2214) rotate(-45)">Trachea</text>
<text transform="translate(1407,2214) rotate(-45)">Lungs</text>
<text transform="translate(1490,2214) rotate(-45)">Duodenum</text>
</g>
</svg>
</body></html>
